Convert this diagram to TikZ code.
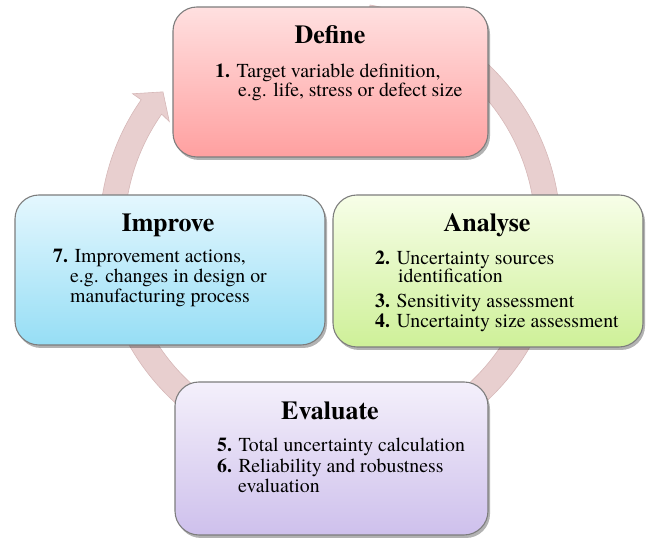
\documentclass[tikz,border=0pt]{standalone}
\usepackage{fontspec}
\setmainfont{TeX Gyre Termes}
\usetikzlibrary{shadows}
\definecolor{ringfill}{RGB}{232,207,207}
\definecolor{ringedge}{RGB}{214,184,184}
\definecolor{boxedge}{RGB}{125,125,125}
\definecolor{defT}{RGB}{255,224,224}
\definecolor{defB}{RGB}{255,160,160}
\definecolor{impT}{RGB}{228,247,254}
\definecolor{impB}{RGB}{150,222,245}
\definecolor{anaT}{RGB}{247,254,232}
\definecolor{anaB}{RGB}{206,240,152}
\definecolor{evaT}{RGB}{244,240,251}
\definecolor{evaB}{RGB}{206,192,236}
\tikzset{
  phasebox/.style={rectangle, rounded corners=24pt, draw=boxedge, line width=1.1pt,
    inner sep=0pt, shading=axis,
    drop shadow={shadow xshift=2pt, shadow yshift=-3pt, opacity=0.3, fill=black}},
  ttl/.style={anchor=base, inner sep=0pt, font=\fontsize{26}{29}\selectfont\bfseries},
  txt/.style={anchor=base west, inner sep=0pt, font=\fontsize{19.8}{21}\selectfont},
}
\begin{document}
\begin{tikzpicture}[x=1pt,y=1pt]
\useasboundingbox (0,0) rectangle (657,540);
% ring with arrow head
\begin{scope}[shift={(330,308)}]
\filldraw[fill=ringfill, draw=ringedge, line width=0.6pt]
  (80:230.5) arc[start angle=80, end angle=-215, radius=230.5]
  -- (145:241) -- (140:218) -- (145.5:195) -- (145:205.5)
  arc[start angle=145, end angle=440, radius=205.5] -- cycle;
\end{scope}
% boxes
\node[phasebox, top color=defT, bottom color=defB, minimum width=315pt, minimum height=150pt] (define) at (330.5,458) {};
\node[phasebox, top color=impT, bottom color=impB, minimum width=310pt, minimum height=150pt] (improve) at (170,270) {};
\node[phasebox, top color=anaT, bottom color=anaB, minimum width=310pt, minimum height=152pt] (analyse) at (488,269) {};
\node[phasebox, top color=evaT, bottom color=evaB, minimum width=313pt, minimum height=153pt] (evaluate) at (331.5,81.5) {};
% Define
\node[ttl] (defTl) at (330,496) {Define};
\node[txt] (d1) at (215,462) {\textbf{1.} Target variable definition,};
\node[txt] (d2) at (238,443) {e.g. life, stress or defect size};
% Improve
\node[ttl] (impTl) at (168,308) {Improve};
\node[txt] (i1) at (53,277) {\textbf{7.} Improvement actions,};
\node[txt] (i2) at (70,257) {e.g. changes in design or};
\node[txt] (i3) at (70,237) {manufacturing process};
% Analyse
\node[ttl] (anaTl) at (487,308) {Analyse};
\node[txt] (a1) at (375,275) {\textbf{2.} Uncertainty sources};
\node[txt] (a2) at (398,257) {identification};
\node[txt] (a3) at (375,232) {\textbf{3.} Sensitivity assessment};
\node[txt] (a4) at (375,212) {\textbf{4.} Uncertainty size assessment};
% Evaluate
\node[ttl] (evaTl) at (330,120) {Evaluate};
\node[txt] (e1) at (217,88) {\textbf{5.} Total uncertainty calculation};
\node[txt] (e2) at (217,67) {\textbf{6.} Reliability and robustness};
\node[txt] (e3) at (238,47) {evaluation};
\end{tikzpicture}
\end{document}
